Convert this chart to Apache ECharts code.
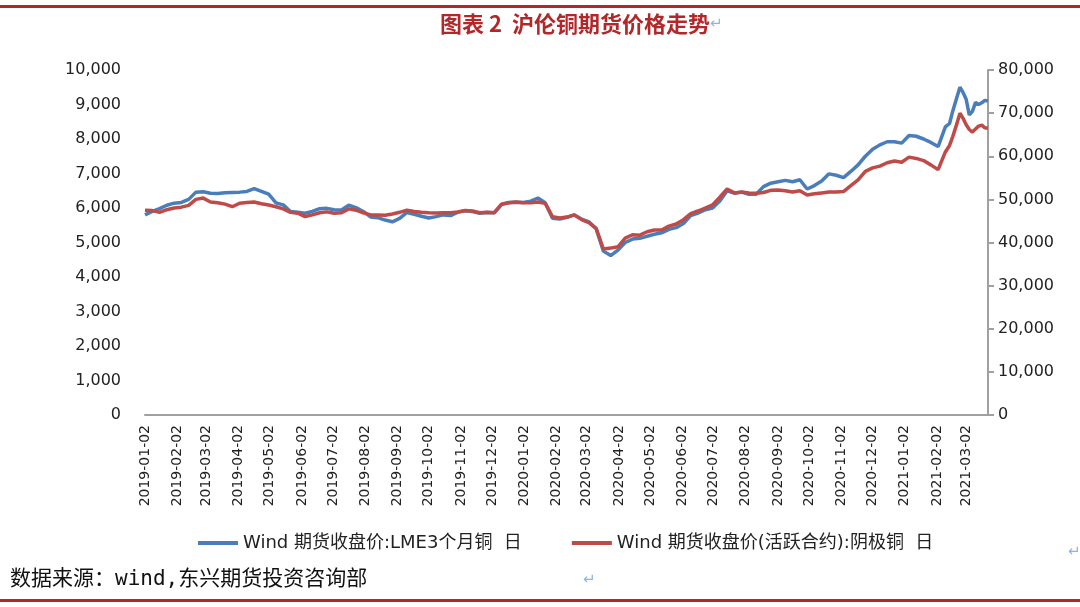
<!DOCTYPE html>
<html>
<head>
<meta charset="utf-8">
<script src="https://cdn.jsdelivr.net/npm/echarts@6/dist/echarts.min.js"></script>
<style>html,body{margin:0;padding:0;background:#fff}#c{width:1080px;height:607px}</style>
</head>
<body>
<div id="c"></div>
<script>
const axisStart = '2019-01-02';
const axisEnd = '2021-03-23';
const tickDay = '-02';
const leftTicks = {min: 0, max: 10000, interval: 1000};
const rightTicks = {min: 0, max: 80000, interval: 10000};
const seriesNames = ['Wind 期货收盘价:LME3个月铜  日', 'Wind 期货收盘价(活跃合约):阴极铜  日'];

const dates = ['2019-01-02','2019-01-09','2019-01-16','2019-01-23','2019-01-30','2019-02-06','2019-02-13','2019-02-20','2019-02-27','2019-03-06','2019-03-13','2019-03-20','2019-03-27','2019-04-03','2019-04-10','2019-04-17','2019-04-24','2019-05-01','2019-05-08','2019-05-15','2019-05-22','2019-05-29','2019-06-05','2019-06-12','2019-06-19','2019-06-26','2019-07-03','2019-07-10','2019-07-17','2019-07-24','2019-07-31','2019-08-07','2019-08-14','2019-08-21','2019-08-28','2019-09-04','2019-09-11','2019-09-18','2019-09-25','2019-10-02','2019-10-09','2019-10-16','2019-10-23','2019-10-30','2019-11-06','2019-11-13','2019-11-20','2019-11-27','2019-12-04','2019-12-11','2019-12-18','2019-12-25',
'2020-01-01','2020-01-08','2020-01-15','2020-01-22','2020-01-29','2020-02-05','2020-02-12','2020-02-19','2020-02-26','2020-03-04','2020-03-11','2020-03-18','2020-03-25','2020-04-01','2020-04-08','2020-04-15','2020-04-22','2020-04-29','2020-05-06','2020-05-13','2020-05-20','2020-05-27','2020-06-03','2020-06-10','2020-06-17','2020-06-24','2020-07-01','2020-07-08','2020-07-15','2020-07-22','2020-07-29','2020-08-05','2020-08-12','2020-08-19','2020-08-26','2020-09-02','2020-09-09','2020-09-16','2020-09-23','2020-09-30','2020-10-07','2020-10-14','2020-10-21','2020-10-28','2020-11-04','2020-11-11','2020-11-18','2020-11-25','2020-12-02','2020-12-09','2020-12-16','2020-12-23','2020-12-30',
'2021-01-06','2021-01-13','2021-01-20','2021-01-27','2021-02-03','2021-02-10','2021-02-14','2021-02-17','2021-02-21','2021-02-24','2021-02-27','2021-03-02','2021-03-05','2021-03-08','2021-03-11','2021-03-14','2021-03-17','2021-03-20','2021-03-23'];

const lme = [5800,5900,5980,6080,6140,6160,6250,6460,6470,6430,6420,6440,6450,6460,6480,6560,6480,6400,6150,6090,5900,5880,5850,5900,5980,5990,5950,5940,6080,6010,5900,5740,5720,5650,5600,5700,5870,5820,5760,5710,5750,5800,5780,5880,5920,5900,5850,5870,5860,6100,6160,6170,
6160,6200,6290,6150,5700,5680,5730,5800,5680,5600,5400,4750,4620,4780,5000,5100,5120,5180,5240,5280,5380,5430,5550,5780,5850,5950,6000,6200,6500,6430,6460,6400,6400,6620,6720,6760,6800,6760,6820,6550,6650,6780,6990,6950,6880,7060,7250,7500,7700,7830,7920,7920,7880,
8100,8080,8000,7900,7780,8350,8450,8800,9200,9500,9350,9150,8700,8800,9060,9000,9050,9120,9100];

const shfe = [47500,47400,47000,47600,48000,48200,48600,50000,50300,49400,49200,48900,48300,49100,49300,49400,49000,48700,48300,47800,47000,46800,46000,46400,46900,47100,46800,46900,47800,47500,46900,46400,46400,46300,46600,47000,47500,47200,47000,46900,46850,46900,46900,47070,47400,47300,46900,47000,46900,48900,49200,49400,
49200,49200,49400,49100,46000,45700,45900,46400,45300,44600,43300,38500,38700,39000,41000,41800,41700,42500,42900,42900,43800,44300,45300,46700,47300,48000,48700,50500,52400,51500,51700,51500,51400,51600,52100,52200,52000,51700,52000,51000,51300,51500,51700,51700,51800,53200,54500,56500,57300,57700,58500,58900,58600,
59800,59500,59000,58000,56900,61000,62500,64500,67500,70000,68800,67300,66200,65600,66300,67000,67200,66600,66500];

// calendar-day categories for the x axis
const days = [];
{
  const d = new Date(axisStart + 'T00:00:00Z');
  const e = new Date(axisEnd + 'T00:00:00Z');
  while (d <= e) { days.push(d.toISOString().slice(0, 10)); d.setUTCDate(d.getUTCDate() + 1); }
}

const fmt = v => v.toLocaleString('en-US');
const FONT = 'DejaVu Sans, Noto Sans CJK SC, sans-serif';
const DARKRED = '#B2282A';

const chart = echarts.init(document.getElementById('c'), null, {renderer: 'canvas'});
chart.setOption({
  animation: false,
  backgroundColor: '#fff',
  grid: {left: 145, right: 92, top: 70, bottom: 192, containLabel: false},
  legend: {
    left: 193, top: 529,
    itemWidth: 40, itemHeight: 4, itemGap: 50,
    icon: 'rect',
    textStyle: {fontFamily: FONT, fontSize: 18, color: '#222'},
    data: seriesNames
  },
  xAxis: {
    type: 'category',
    data: days,
    boundaryGap: false,
    axisLine: {show: true, lineStyle: {color: '#A0A0A0', width: 2}},
    axisTick: {show: false},
    splitLine: {show: false},
    axisLabel: {
      rotate: 90, margin: 10,
      interval: (i, v) => v.endsWith(tickDay),
      fontFamily: FONT, fontSize: 14, color: '#222'
    }
  },
  yAxis: [{
    type: 'value', position: 'left',
    min: leftTicks.min, max: leftTicks.max, interval: leftTicks.interval,
    axisLine: {show: false}, axisTick: {show: false}, splitLine: {show: false},
    axisLabel: {formatter: fmt, margin: 24, fontFamily: FONT, fontSize: 16, color: '#222'}
  }, {
    type: 'value', position: 'right',
    min: rightTicks.min, max: rightTicks.max, interval: rightTicks.interval,
    axisLine: {show: true, lineStyle: {color: '#A0A0A0', width: 2}},
    axisTick: {show: true, length: 6, lineStyle: {color: '#A0A0A0', width: 2}},
    splitLine: {show: false},
    axisLabel: {formatter: fmt, margin: 10, fontFamily: FONT, fontSize: 16, color: '#222'}
  }],
  series: [{
    name: seriesNames[0], type: 'line', yAxisIndex: 0,
    showSymbol: false, symbol: 'none',
    data: dates.map((d, i) => [d, lme[i]]),
    itemStyle: {color: '#4A7EBB'},
    lineStyle: {color: '#4A7EBB', width: 3.5}
  }, {
    name: seriesNames[1], type: 'line', yAxisIndex: 1,
    showSymbol: false, symbol: 'none',
    data: dates.map((d, i) => [d, shfe[i]]),
    itemStyle: {color: '#BE4B48'},
    lineStyle: {color: '#BE4B48', width: 3.5}
  }],
  graphic: [
    {type: 'rect', shape: {x: 0, y: 5, width: 1080, height: 3}, style: {fill: DARKRED}},
    {type: 'rect', shape: {x: 0, y: 599, width: 1080, height: 3}, style: {fill: DARKRED}},
    {type: 'text', left: 440, top: 13, style: {
      text: '{t|图表 2  沪伦铜期货价格走势}{m|↵}',
      rich: {
        t: {fontFamily: 'Noto Sans CJK SC', fontWeight: 'bold', fontSize: 22, fill: DARKRED},
        m: {fontFamily: FONT, fontSize: 15, fill: '#8DB4E2'}
      }
    }},
    {type: 'text', left: 10, top: 569, style: {
      text: '数据来源：wind,东兴期货投资咨询部',
      fontFamily: 'DejaVu Sans Mono, Noto Sans CJK SC', fontSize: 21, fill: '#111'
    }},
    {type: 'text', left: 583, top: 573, style: {text: '↵', fontFamily: FONT, fontSize: 15, fill: '#8DB4E2'}},
    {type: 'text', left: 1068, top: 545, style: {text: '↵', fontFamily: FONT, fontSize: 15, fill: '#8DB4E2'}}
  ]
});
</script>
</body>
</html>
